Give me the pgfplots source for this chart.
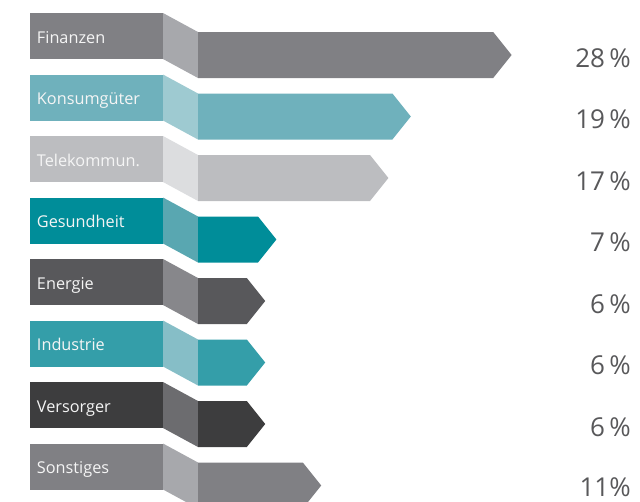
\documentclass[border=0pt]{standalone}
\usepackage{pgfplots}
\pgfplotsset{compat=1.18}
\usepackage{fontspec}
\setmainfont{Open Sans}
\definecolor{cFin}{HTML}{808084}
\definecolor{cFinL}{HTML}{A7A8AC}
\definecolor{cKon}{HTML}{6FB1BC}
\definecolor{cKonL}{HTML}{9ECAD1}
\definecolor{cTel}{HTML}{BCBDC0}
\definecolor{cTelL}{HTML}{DCDDDF}
\definecolor{cGes}{HTML}{008D99}
\definecolor{cGesL}{HTML}{59A7B1}
\definecolor{cEne}{HTML}{58585B}
\definecolor{cEneL}{HTML}{87878B}
\definecolor{cInd}{HTML}{349EA9}
\definecolor{cIndL}{HTML}{86BEC7}
\definecolor{cVer}{HTML}{3D3D3E}
\definecolor{cVerL}{HTML}{6C6C6F}
\definecolor{cPct}{HTML}{58585A}
\tikzset{
  lab/.style={anchor=base west, inner sep=0pt, text=white!96!black, font=\fontsize{12.2}{14}\selectfont},
  pct/.style={anchor=base east, inner sep=0pt, text=cPct, font=\fontsize{19.5}{22}\selectfont},
}
\begin{document}
\begin{tikzpicture}
\begin{axis}[
  name=ax,
  scale only axis, width=480pt, height=375.75pt,
  hide axis, clip=false,
  xmin=-17.679, xmax=39.464,
  y dir=reverse, ymin=0, ymax=501,
  every axis plot/.append style={draw=none, mark=none},
]
% Row 1: Finanzen 28
\addplot[fill=cFin]  coordinates {(-15,13) (-3.125,13) (-3.125,59) (-15,59)};
\addplot[fill=cFinL] coordinates {(-3.125,13) (0,32) (0,78) (-3.125,59)};
\addplot[fill=cFin]  coordinates {(0,32) (26.36,32) (28,55) (26.36,78) (0,78)};
% Row 2: Konsumgueter 19
\addplot[fill=cKon]  coordinates {(-15,74.5) (-3.125,74.5) (-3.125,120.5) (-15,120.5)};
\addplot[fill=cKonL] coordinates {(-3.125,74.5) (0,93.5) (0,139.5) (-3.125,120.5)};
\addplot[fill=cKon]  coordinates {(0,93.5) (17.36,93.5) (19,116.5) (17.36,139.5) (0,139.5)};
% Row 3: Telekommun. 17
\addplot[fill=cTel]  coordinates {(-15,136) (-3.125,136) (-3.125,182) (-15,182)};
\addplot[fill=cTelL] coordinates {(-3.125,136) (0,155) (0,201) (-3.125,182)};
\addplot[fill=cTel]  coordinates {(0,155) (15.36,155) (17,178) (15.36,201) (0,201)};
% Row 4: Gesundheit 7
\addplot[fill=cGes]  coordinates {(-15,197.5) (-3.125,197.5) (-3.125,243.5) (-15,243.5)};
\addplot[fill=cGesL] coordinates {(-3.125,197.5) (0,216.5) (0,262.5) (-3.125,243.5)};
\addplot[fill=cGes]  coordinates {(0,216.5) (5.36,216.5) (7,239.5) (5.36,262.5) (0,262.5)};
% Row 5: Energie 6
\addplot[fill=cEne]  coordinates {(-15,259) (-3.125,259) (-3.125,305) (-15,305)};
\addplot[fill=cEneL] coordinates {(-3.125,259) (0,278) (0,324) (-3.125,305)};
\addplot[fill=cEne]  coordinates {(0,278) (4.36,278) (6,301) (4.36,324) (0,324)};
% Row 6: Industrie 6
\addplot[fill=cInd]  coordinates {(-15,320.5) (-3.125,320.5) (-3.125,366.5) (-15,366.5)};
\addplot[fill=cIndL] coordinates {(-3.125,320.5) (0,339.5) (0,385.5) (-3.125,366.5)};
\addplot[fill=cInd]  coordinates {(0,339.5) (4.36,339.5) (6,362.5) (4.36,385.5) (0,385.5)};
% Row 7: Versorger 6
\addplot[fill=cVer]  coordinates {(-15,382) (-3.125,382) (-3.125,428) (-15,428)};
\addplot[fill=cVerL] coordinates {(-3.125,382) (0,401) (0,447) (-3.125,428)};
\addplot[fill=cVer]  coordinates {(0,401) (4.36,401) (6,424) (4.36,447) (0,447)};
% Row 8: Sonstiges 11
\addplot[fill=cFin]  coordinates {(-15,443.5) (-3.125,443.5) (-3.125,489.5) (-15,489.5)};
\addplot[fill=cFinL] coordinates {(-3.125,443.5) (0,462.5) (0,508.5) (-3.125,489.5)};
\addplot[fill=cFin]  coordinates {(0,462.5) (9.36,462.5) (11,485.5) (9.36,508.5) (0,508.5)};
% labels
\node[lab] at (axis cs:-14.4,43)    {Finanzen};
\node[lab] at (axis cs:-14.4,104.5) {Konsumgüter};
\node[lab] at (axis cs:-14.4,166)   {Telekommun.};
\node[lab] at (axis cs:-14.4,227.5) {Gesundheit};
\node[lab] at (axis cs:-14.4,289)   {Energie};
\node[lab] at (axis cs:-14.4,350.5) {Industrie};
\node[lab] at (axis cs:-14.4,412)   {Versorger};
\node[lab] at (axis cs:-14.4,473.5) {Sonstiges};
% percentages
\node[pct] at (axis cs:38.66,67)    {28\,\%};
\node[pct] at (axis cs:38.66,128.5) {19\,\%};
\node[pct] at (axis cs:38.66,190)   {17\,\%};
\node[pct] at (axis cs:38.66,251.5) {7\,\%};
\node[pct] at (axis cs:38.66,313)   {6\,\%};
\node[pct] at (axis cs:38.66,374.5) {6\,\%};
\node[pct] at (axis cs:38.66,436)   {6\,\%};
\node[pct] at (axis cs:38.66,496)   {11\%};
\end{axis}
\pgfresetboundingbox
\path[use as bounding box] (ax.south west) rectangle (ax.north east);
\end{tikzpicture}
\end{document}
